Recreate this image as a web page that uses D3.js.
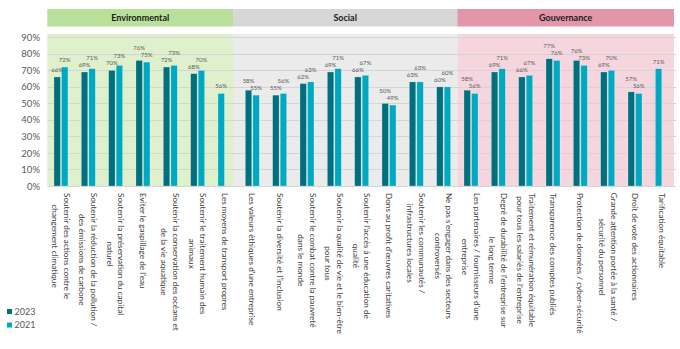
<!DOCTYPE html>
<html><head><meta charset="utf-8">
<script src="https://cdn.jsdelivr.net/npm/d3@7"></script>
<style>body{margin:0;background:#fff}svg{display:block;font-family:Lato,"Open Sans",sans-serif}</style>
</head><body><svg id="c" width="680" height="349"></svg>
<script>
const categories = [
  "Soutenir des actions contre le|changement climatique",
  "Soutenir la réduction de la pollution /|des émissions de carbone",
  "Soutenir la préservation du capital|naturel",
  "Eviter le gaspillage de l'eau",
  "Soutenir la conservation des océans et|de la vie aquatique",
  "Soutenir le traitement humain des|animaux",
  "Les moyens de transport propres",
  "Les valeurs éthiques d'une entreprise",
  "Soutenir la diversité et l'inclusion",
  "Soutenir le combat contre la pauvreté|dans le monde",
  "Soutenir la qualité de vie et le bien-être|pour tous",
  "Soutenir l'accès à une éducation de|qualité",
  "Dons au profit d'œuvres caritatives",
  "Soutenir les communautés /|infrastructures locales",
  "Ne pas s'engager dans des secteurs|controversés",
  "Les partenaires / fournisseurs d'une|entreprise",
  "Degré de durabilité de l'entreprise sur|le long terme",
  "Traitement et rémunération équitable|pour tous les salariés de l'entreprise",
  "Transparence des comptes publiés",
  "Protection de données / cyber-sécurité",
  "Grande attention portée à la santé /|sécurité du personnel",
  "Droit de vote des actionnaires",
  "Tarification équitable"
];
const groups = ["Environmental", "Social", "Gouvernance"];
const groupSizes = [7, 8, 8];
const series = ["2023", "2021"];
const values2023 = [66, 69, 70, 76, 72, 68, null, 58, 55, 62, 69, 66, 50, 63, 60, 58, 69, 66, 77, 76, 69, 57, null];
const values2021 = [72, 71, 73, 75, 73, 70, 56, 55, 56, 63, 71, 67, 49, 63, 60, 56, 71, 67, 76, 73, 70, 56, 71];
const yTicks = [0, 10, 20, 30, 40, 50, 60, 70, 80, 90];

const colors = {"2023": "#006f7e", "2021": "#00a9c1"};
const groupHead = ["#b8e09b", "#d7d7d7", "#e396aa"];
const groupBg = ["#dff0cd", "#ebebeb", "#f6d6de"];

const svg = d3.select("#c");
const x = d3.scaleBand().domain(d3.range(categories.length)).range([47.3, 676]).padding(0);
const step = x.step();
const y = d3.scaleLinear().domain([0, 90]).range([186, 37.3]);
const x1 = d3.scaleBand().domain(series).range([step/2 - 7, step/2 + 7]).paddingInner(2/14);

// group bands
let start = 0;
const bounds = [];
groupSizes.forEach((n, i) => { bounds.push([start, start + n]); start += n; });
const edge = v => x.range()[0] + v * step;
const bandLeft = (i) => i === 0 ? edge(0) : edge(bounds[i][0]) - (i === 1 ? 5.6 : 0);
const bandRight = (i) => i === 0 ? edge(bounds[0][1]) - 5.6 : (i === groups.length - 1 ? edge(bounds[i][1]) - 2 : edge(bounds[i][1]));

groups.forEach((g, i) => {
  const l = bandLeft(i), r = bandRight(i);
  svg.append("rect").attr("x", l).attr("y", 34).attr("width", r - l).attr("height", y(0) - 34).attr("fill", groupBg[i]);
  svg.append("rect").attr("x", l).attr("y", 9).attr("width", r - l).attr("height", 17.5).attr("fill", groupHead[i]);
  svg.append("text").attr("x", (l + r) / 2).attr("y", 21).attr("text-anchor", "middle")
    .attr("font-size", 9).attr("font-weight", "bold").attr("fill", "#1a1a1a").text(g);
});

// grid
svg.append("g").selectAll("line").data(yTicks).join("line")
  .attr("x1", 47.3).attr("x2", 676).attr("y1", d => Math.round(y(d)) + 0.5).attr("y2", d => Math.round(y(d)) + 0.5)
  .attr("stroke", "#d5d5d5").attr("stroke-width", 1);

// y axis labels
const yAxis = svg.append("g").attr("transform", "translate(40,0)")
  .call(d3.axisLeft(y).tickValues(yTicks).tickFormat(d => d + "%").tickSize(0).tickPadding(0));
yAxis.select(".domain").remove();
yAxis.selectAll("text").attr("font-size", 9.5).attr("fill", "#595959").attr("font-family", "Lato, sans-serif");

// bars
const rows = [];
categories.forEach((c, i) => {
  const v23 = values2023[i], v21 = values2021[i];
  const a = v23 != null ? {i, s: "2023", v: v23, slot: "2023", ly: y(v23) - 5} : null;
  const b = v21 != null ? {i, s: "2021", v: v21, slot: v23 == null ? "2023" : "2021", ly: y(v21) - 5} : null;
  if (a && b && Math.abs(a.ly - b.ly) < 7) {
    if (a.v > b.v) a.ly = b.ly - 7; else b.ly = a.ly - 7;
  }
  if (a) rows.push(a);
  if (b) rows.push(b);
});
const bx = d => x(d.i) + x1(d.slot);
svg.append("g").selectAll("rect").data(rows).join("rect")
  .attr("x", bx).attr("y", d => y(d.v)).attr("width", x1.bandwidth()).attr("height", d => y(0) - y(d.v))
  .attr("fill", d => colors[d.s]).attr("stroke", "#ffffff").attr("stroke-opacity", 0.5).attr("stroke-width", 0.5);
svg.append("g").selectAll("text").data(rows).join("text")
  .attr("x", d => bx(d) + x1.bandwidth() / 2).attr("y", d => d.ly)
  .attr("text-anchor", "middle").attr("font-size", 6).attr("fill", "#595959").text(d => d.v + "%");

// x labels (rotated)
const lh = 11.7;
const xl = svg.append("g");
categories.forEach((c, i) => {
  const lines = c.split("|");
  const cx = x(i) + step / 2;
  const g = xl.append("g").attr("transform", `translate(${cx},193) rotate(90)`);
  const t = g.append("text").attr("font-size", 8.2).attr("fill", "#404040");
  lines.forEach((ln, k) => t.append("tspan").text(ln));
  const widths = [];
  t.selectAll("tspan").each(function(){ widths.push(this.getComputedTextLength()); });
  const maxW = d3.max(widths);
  const n = lines.length;
  t.selectAll("tspan").attr("text-anchor", "middle").attr("x", maxW / 2)
    .attr("y", (d, k) => (k - (n - 1) / 2) * lh + 3);
});

// legend
series.forEach((s, k) => {
  svg.append("rect").attr("x", 7).attr("y", 309 + k * 13.5).attr("width", 5).attr("height", 5).attr("fill", colors[s]);
  svg.append("text").attr("x", 14.5).attr("y", 314.5 + k * 13.5).attr("font-size", 9).attr("fill", "#595959").text(s);
});
</script></body></html>
